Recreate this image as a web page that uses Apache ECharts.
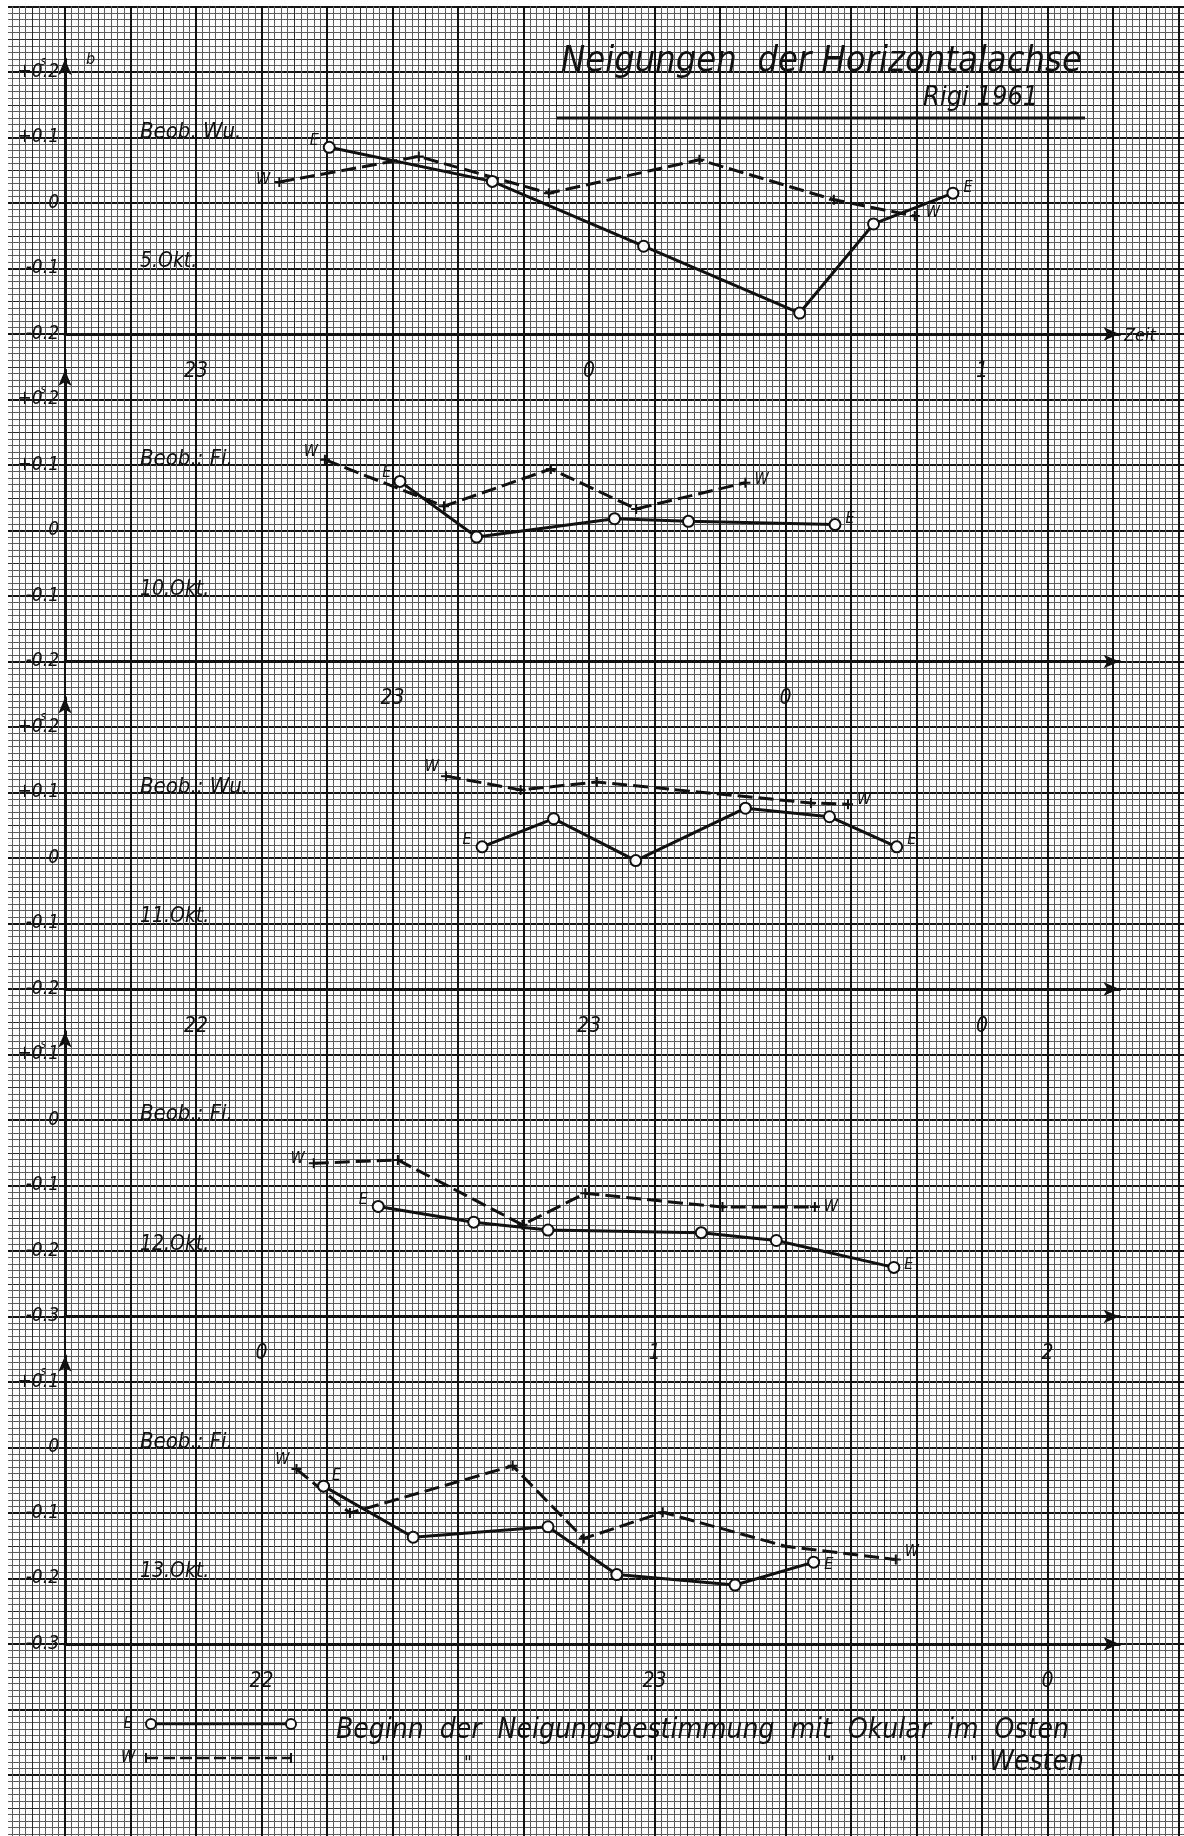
<!DOCTYPE html>
<html><head><meta charset="utf-8">
<script src="https://cdn.jsdelivr.net/npm/echarts@6/dist/echarts.min.js"></script>
<style>html,body{margin:0;padding:0;background:#fff}#c{width:1184px;height:1836px}</style>
</head><body><div id="c"></div>
<script>
// ---------------- DATA ----------------
const panelDates = ['5.Okt.', '10.Okt.', '11.Okt.', '12.Okt.', '13.Okt.'];
const observers = ['Beob. Wu.', 'Beob.: Fi.', 'Beob.: Wu.', 'Beob.: Fi.', 'Beob.: Fi.'];
// hour ticks (values past 24 are after midnight)
const hourTicks = [[23, 24, 25], [23, 24], [22, 23, 24], [24, 25, 26], [22, 23, 24]];
const valueTicks = [
  [-0.2, -0.1, 0, 0.1, 0.2],
  [-0.2, -0.1, 0, 0.1, 0.2],
  [-0.2, -0.1, 0, 0.1, 0.2],
  [-0.3, -0.2, -0.1, 0, 0.1],
  [-0.3, -0.2, -0.1, 0, 0.1]
];
// [hour, inclination in s] ; E = ocular east (solid, circles), W = ocular west (dashed, crosses)
const east5 = [[23.339, 0.085], [23.754, 0.033], [24.139, -0.066], [24.536, -0.168], [24.724, -0.032], [24.926, 0.015]];
const west5 = [[23.212, 0.032], [23.567, 0.071], [23.898, 0.015], [24.281, 0.066], [24.623, 0.005], [24.829, -0.020]];
const east10 = [[23.019, 0.075], [23.214, -0.010], [23.565, 0.018], [23.753, 0.014], [24.126, 0.009]];
const west10 = [[22.828, 0.108], [23.131, 0.037], [23.403, 0.094], [23.620, 0.033], [23.898, 0.073]];
const east11 = [[22.728, 0.017], [22.910, 0.060], [23.119, -0.004], [23.398, 0.076], [23.612, 0.063], [23.783, 0.017]];
const west11 = [[22.636, 0.125], [22.826, 0.104], [23.020, 0.116], [23.565, 0.084], [23.659, 0.082]];
const east12 = [[24.297, -0.132], [24.540, -0.156], [24.729, -0.168], [25.119, -0.172], [25.310, -0.184], [25.609, -0.225]];
const west12 = [[24.133, -0.066], [24.347, -0.061], [24.664, -0.160], [24.824, -0.112], [25.173, -0.133], [25.408, -0.133]];
const east13 = [[22.158, -0.059], [22.386, -0.137], [22.729, -0.121], [22.904, -0.194], [23.205, -0.210], [23.405, -0.175]];
const west13 = [[22.089, -0.033], [22.225, -0.100], [22.639, -0.028], [22.820, -0.139], [23.021, -0.099], [23.335, -0.151], [23.614, -0.171]];
const eastSets = [east5, east10, east11, east12, east13];
const westSets = [west5, west10, west11, west12, west13];
const titleText = 'Neigungen  der Horizontalachse';
const subTitleText = 'Rigi 1961';
const legendEast = 'Beginn  der  Neigungsbestimmung  mit  Okular  im  Osten';
const legendWest = 'Westen';

// ---------------- LAYOUT / STYLE ----------------
const U = 65.5;            // 1 cm of graph paper in px
const X0 = 65;             // y-axis position
const axisY = [334, 334 + 5 * U, 334 + 10 * U, 334 + 15 * U, 334 + 20 * U];
const xStart = [22 + 2 / 3, 22 + 1 / 6, 21 + 2 / 3, 23.5, 21.5];
const yMin = [-0.2, -0.2, -0.2, -0.3, -0.3];
const yMax = [0.22, 0.245, 0.245, 0.135, 0.14];
const PX_PER_UNIT = 10 * U;
const AX_W = 16.1 * U;
const FONT = "'DejaVu Sans Condensed','Liberation Sans Narrow','DejaVu Sans',sans-serif";
const INK = '#111';
const labelPos = [
  { E0: ['left', [0, -6]], W0: ['left', [0, -2]], E1: ['right', [0, -5]], W1: ['right', [2, -3]] },
  { E0: ['left', [2, -9]], W0: ['left', [2, -8]], E1: ['right', [0, -6]], W1: ['right', [0, -3]] },
  { E0: ['left', [0, -7]], W0: ['left', [2, -9]], E1: ['right', [0, -7]], W1: ['right', [0, -4]] },
  { E0: ['left', [0, -7]], W0: ['left', [0, -4]], E1: ['right', [0, -3]], W1: ['right', [0, 0]] },
  { E0: ['right', [-2, -10]], W0: ['left', [2, -9]], E1: ['right', [0, 3]], W1: ['right', [0, -8]] }
];
const plusPath = 'path://M4,0h2v4h4v2h-4v4h-2v-4h-4v-2h4z';

const grids = [], xAxes = [], yAxes = [], series = [];
// graph paper background (two layers), larger than the page so that lines align with the axes
const bg = { left: X0 - 2 * U, top: axisY[0] - 6 * U, width: 20 * U, height: 30 * U, outerBoundsMode: 'none', containLabel: false };
grids.push(Object.assign({}, bg), Object.assign({}, bg));
function paperAxis(idx, interval, max, splitStyle, minor) {
  return {
    type: 'value', gridIndex: idx, min: 0, max: max, interval: interval, z: 0,
    axisLine: { show: false }, axisTick: { show: false }, axisLabel: { show: false },
    splitLine: { show: true, lineStyle: splitStyle },
    minorTick: { show: false, splitNumber: 5 },
    minorSplitLine: { show: !!minor, lineStyle: minor || {} }
  };
}
const fineStyle = { color: '#5c5c5c', width: 1 };
const midStyle = { color: '#2a2a2a', width: 1 };
const heavyStyle = { color: '#111', width: 2 };
xAxes.push(paperAxis(0, 0.5, 20, midStyle, fineStyle));
let ax = paperAxis(0, 0.5, 30, midStyle, fineStyle); ax.inverse = true; yAxes.push(ax);
xAxes.push(paperAxis(1, 1, 20, heavyStyle, null));
ax = paperAxis(1, 1, 30, heavyStyle, null); ax.inverse = true; yAxes.push(ax);

function fmtVal(top) {
  return function (v) {
    const s = v > 1e-9 ? '+' + v.toFixed(1) : (v < -1e-9 ? '-' + Math.abs(v).toFixed(1) : '0');
    return Math.abs(v - top) < 1e-9 ? '{s|s}\n{v|' + s + '}' : s;
  };
}

for (let i = 0; i < 5; i++) {
  const h = (yMax[i] - yMin[i]) * PX_PER_UNIT;
  const gi = i + 2;
  grids.push({ left: X0, top: axisY[i] - h, width: AX_W, height: h, outerBoundsMode: 'none', containLabel: false });
  xAxes.push({
    type: 'value', gridIndex: gi, min: xStart[i], max: xStart[i] + 16.1 / 6, z: 3,
    axisLine: { show: true, onZero: false, symbol: ['none', 'arrow'], symbolSize: [10, 16], lineStyle: { color: INK, width: 3 } },
    axisTick: { show: false }, splitLine: { show: false },
    axisLabel: {
      customValues: hourTicks[i], margin: 27, color: INK, fontSize: 21, fontStyle: 'italic', fontFamily: FONT,
      formatter: v => String(Math.round(v) % 24)
    }
  });
  const top = valueTicks[i][valueTicks[i].length - 1];
  yAxes.push({
    type: 'value', gridIndex: gi, min: yMin[i], max: yMax[i], z: 3,
    axisLine: { show: true, onZero: false, symbol: ['none', 'arrow'], symbolSize: [10, 16], lineStyle: { color: INK, width: 3 } },
    axisTick: { show: false }, splitLine: { show: false },
    axisLabel: {
      customValues: valueTicks[i], margin: 6, color: INK, fontSize: 19, fontStyle: 'italic', fontFamily: FONT,
      formatter: fmtVal(top),
      rich: {
        s: { fontSize: 12, lineHeight: 12, fontStyle: 'italic', fontFamily: FONT, color: INK, padding: [0, 13, 0, 0] },
        v: { fontSize: 19, lineHeight: 20, fontStyle: 'italic', fontFamily: FONT, color: INK, padding: [0, 0, 12, 0] }
      }
    }
  });
  const lp = labelPos[i];
  const mk = (arr, tag) => arr.map((p, j) => {
    const last = arr.length - 1;
    if (j === 0 || j === last) {
      const pos = lp[tag + (j === 0 ? '0' : '1')];
      return { value: p, label: { show: true, formatter: tag, position: pos[0], offset: pos[1] } };
    }
    return { value: p };
  });
  const lbl = { show: false, color: INK, fontSize: 16, fontStyle: 'italic', fontFamily: FONT, distance: 4 };
  series.push({
    type: 'line', name: 'W', xAxisIndex: gi, yAxisIndex: gi, z: 5, data: mk(westSets[i], 'W'),
    symbol: plusPath, symbolSize: 10, itemStyle: { color: INK },
    lineStyle: { color: INK, width: 3, type: [15, 6] }, label: lbl, silent: true
  });
  series.push({
    type: 'line', name: 'E', xAxisIndex: gi, yAxisIndex: gi, z: 6, data: mk(eastSets[i], 'E'),
    symbol: 'circle', symbolSize: 11, itemStyle: { color: '#fff', borderColor: INK, borderWidth: 2 },
    lineStyle: { color: INK, width: 3 }, label: lbl, silent: true
  });
}

// ---------------- annotations ----------------
const txt = (text, x, y, size, align) => ({
  type: 'text', x: x, y: y, z: 20,
  style: { text: text, fill: INK, fontSize: size, fontStyle: 'italic', fontFamily: FONT, align: align || 'left', verticalAlign: 'middle' }
});
const graphics = [
  { type: 'rect', shape: { x: 0, y: 0, width: 8, height: 1836 }, style: { fill: '#fff' }, z: 10 },
  { type: 'rect', shape: { x: 0, y: 0, width: 1184, height: 6 }, style: { fill: '#fff' }, z: 10 },
  txt(titleText, 561, 62, 36),
  txt(subTitleText, 923, 98, 27),
  { type: 'line', shape: { x1: 557, y1: 118, x2: 1085, y2: 118 }, style: { stroke: INK, lineWidth: 3 }, z: 20 },
  txt('b', 86, 60, 16),
  txt('Zeit', 1124, 336, 18)
];
for (let i = 0; i < 5; i++) {
  graphics.push(txt(observers[i], 140, axisY[i] - 202, 22));
  graphics.push(txt(panelDates[i], 140, axisY[i] - 72, 21));
}
// legend
const LY1 = 1724, LY2 = 1758;
graphics.push(txt('E', 128, LY1, 16, 'center'));
graphics.push({ type: 'line', shape: { x1: 156, y1: LY1, x2: 286, y2: LY1 }, style: { stroke: INK, lineWidth: 2.6 }, z: 20 });
graphics.push({ type: 'circle', shape: { cx: 151, cy: LY1, r: 5 }, style: { fill: '#fff', stroke: INK, lineWidth: 2 }, z: 21 });
graphics.push({ type: 'circle', shape: { cx: 291, cy: LY1, r: 5 }, style: { fill: '#fff', stroke: INK, lineWidth: 2 }, z: 21 });
graphics.push(txt('W', 128, LY2, 16, 'center'));
graphics.push({ type: 'line', shape: { x1: 146, y1: LY2, x2: 291, y2: LY2 }, style: { stroke: INK, lineWidth: 2.6, lineDash: [12, 5] }, z: 20 });
graphics.push({ type: 'line', shape: { x1: 146, y1: LY2 - 5, x2: 146, y2: LY2 + 5 }, style: { stroke: INK, lineWidth: 2 }, z: 20 });
graphics.push({ type: 'line', shape: { x1: 291, y1: LY2 - 5, x2: 291, y2: LY2 + 5 }, style: { stroke: INK, lineWidth: 2 }, z: 20 });
graphics.push(txt(legendEast, 336, 1731, 28));
[385, 468, 650, 831, 903, 974].forEach(x => graphics.push(txt('"', x, 1764, 19, 'center')));
graphics.push(txt(legendWest, 989, 1763, 28));

const chart = echarts.init(document.getElementById('c'), null, { renderer: 'canvas', width: 1184, height: 1836 });
chart.setOption({
  animation: false,
  backgroundColor: '#fff',
  grid: grids, xAxis: xAxes, yAxis: yAxes, series: series, graphic: graphics
});
</script>
</body></html>
